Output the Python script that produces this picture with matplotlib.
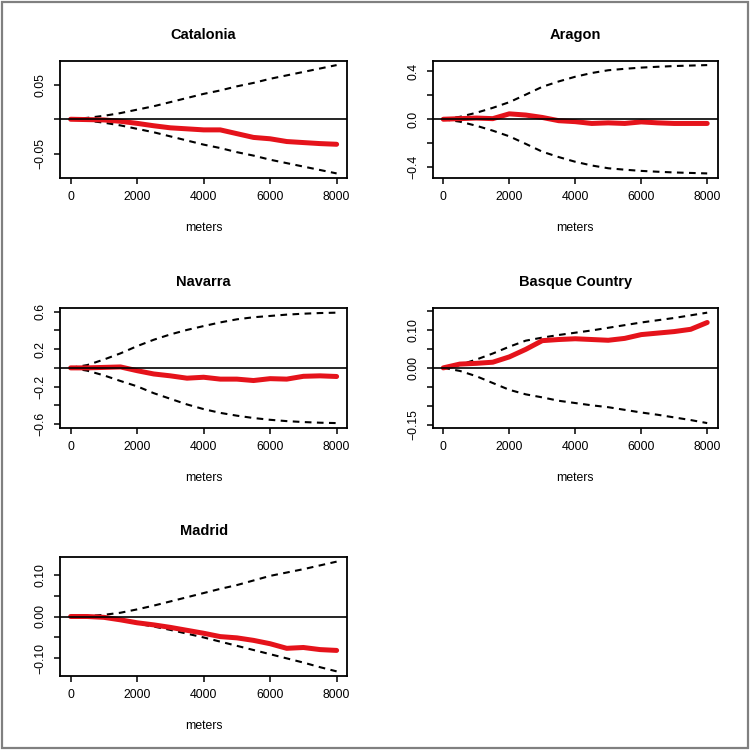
import numpy as np
import matplotlib
matplotlib.use('Agg')
import matplotlib.pyplot as plt
from matplotlib.patches import Rectangle

plt.rcParams['font.family'] = ['Liberation Sans', 'DejaVu Sans']

# distance grid (meters)
x = [0, 500, 1000, 1500, 2000, 2500, 3000, 3500, 4000, 4500, 5000, 5500, 6000, 6500, 7000, 7500, 8000]

# Catalonia
cat_upper = [0, .002, .005, .009, .014, .019, .025, .031, .037, .042, .048, .053, .059, .064, .069, .074, .079]
cat_lower = [0, -.002, -.005, -.009, -.014, -.019, -.025, -.031, -.037, -.042, -.048, -.053, -.059, -.064, -.069, -.074, -.079]
cat_obs = [0, -.0005, -.001, -.003, -.006, -.0095, -.0125, -.014, -.0155, -.0155, -.021, -.0265, -.0285, -.0325, -.034, -.0355, -.0365]

# Aragon
ara_upper = [0, .02, .054, .095, .142, .205, .27, .315, .354, .385, .408, .42, .43, .437, .443, .447, .451]
ara_lower = [0, -.02, -.054, -.095, -.142, -.205, -.27, -.315, -.354, -.385, -.408, -.42, -.43, -.437, -.443, -.447, -.451]
ara_obs = [0, .005, .01, .005, .045, .035, .015, -.012, -.02, -.035, -.03, -.035, -.022, -.03, -.035, -.035, -.035]

# Navarra
nav_upper = [0, .03, .089, .155, .232, .30, .357, .405, .446, .485, .518, .54, .554, .568, .578, .585, .589]
nav_lower = [0, -.03, -.08, -.14, -.197, -.27, -.33, -.39, -.44, -.48, -.51, -.535, -.554, -.568, -.578, -.585, -.589]
nav_obs = [0, 0, .005, .01, -.03, -.065, -.085, -.11, -.1, -.12, -.12, -.135, -.115, -.12, -.09, -.085, -.092]

# Basque Country
bas_upper = [0, .008, .022, .038, .056, .072, .080, .087, .093, .099, .106, .113, .120, .126, .132, .139, .146]
bas_lower = [0, -.008, -.022, -.04, -.058, -.07, -.078, -.087, -.093, -.099, -.104, -.111, -.118, -.124, -.131, -.138, -.146]
bas_obs = [0, .01, .012, .015, .029, .049, .072, .075, .077, .075, .073, .078, .088, .092, .096, .102, .12]

# Madrid
mad_upper = [0, .001, .004, .009, .017, .026, .036, .046, .056, .066, .075, .086, .097, .105, .113, .122, .131]
mad_lower = [0, -.001, -.004, -.009, -.017, -.024, -.032, -.041, -.05, -.06, -.07, -.08, -.09, -.1, -.11, -.121, -.131]
mad_obs = [0, 0, -.002, -.008, -.015, -.02, -.026, -.033, -.04, -.048, -.051, -.057, -.065, -.076, -.074, -.079, -.081]

regions = ['Catalonia', 'Aragon', 'Navarra', 'Basque Country', 'Madrid']
uppers = [cat_upper, ara_upper, nav_upper, bas_upper, mad_upper]
lowers = [cat_lower, ara_lower, nav_lower, bas_lower, mad_lower]
observed = [cat_obs, ara_obs, nav_obs, bas_obs, mad_obs]

xticks = [0, 2000, 4000, 6000, 8000]
yticks = [
    [-0.05, 0, 0.05],
    [-0.4, -0.2, 0, 0.2, 0.4],
    [-0.6, -0.4, -0.2, 0, 0.2, 0.4, 0.6],
    [-0.15, -0.10, -0.05, 0, 0.05, 0.10, 0.15],
    [-0.10, -0.05, 0, 0.05, 0.10],
]
ylabels = [
    ['\u22120.05', '', '0.05'],
    ['\u22120.4', '', '0.0', '', '0.4'],
    ['\u22120.6', '', '\u22120.2', '', '0.2', '', '0.6'],
    ['\u22120.15', '', '', '0.00', '', '0.10', ''],
    ['\u22120.10', '', '0.00', '', '0.10'],
]

# axes positions [left, bottom, width, height] in figure fraction
positions = [
    [0.080, 0.763, 0.383, 0.156],
    [0.577, 0.763, 0.380, 0.156],
    [0.080, 0.430, 0.383, 0.159],
    [0.577, 0.430, 0.380, 0.159],
    [0.080, 0.099, 0.383, 0.158],
]

fig = plt.figure(figsize=(7.5, 7.5), dpi=100)
fig.patches.append(Rectangle((0.003, 0.003), 0.994, 0.994, transform=fig.transFigure,
                             fill=False, edgecolor='#808080', linewidth=1.6))

for i, name in enumerate(regions):
    ax = fig.add_axes(positions[i])
    ax.plot(x, uppers[i], color='black', lw=1.5, linestyle=(0, (3.2, 2.6)))
    ax.plot(x, lowers[i], color='black', lw=1.5, linestyle=(0, (3.2, 2.6)))
    ax.plot(x, observed[i], color='#e5131b', lw=3.6, solid_capstyle='round')
    ax.margins(x=0.04, y=0.04)
    ax.axhline(0, color='black', lw=1.2)
    ax.set_xticks(xticks)
    ax.set_xticklabels([str(t) for t in xticks])
    ax.set_yticks(yticks[i])
    ax.set_yticklabels(ylabels[i], rotation=90, va='center')
    ax.tick_params(direction='out', length=4.5, width=1.1, labelsize=8.8, pad=5)
    for s in ax.spines.values():
        s.set_linewidth(1.3)
    ax.set_xlabel('meters', fontsize=8.8, labelpad=14)
    ax.set_title(name, fontsize=10.5, fontweight='bold', pad=16)

fig.savefig('out.png', dpi=100)
